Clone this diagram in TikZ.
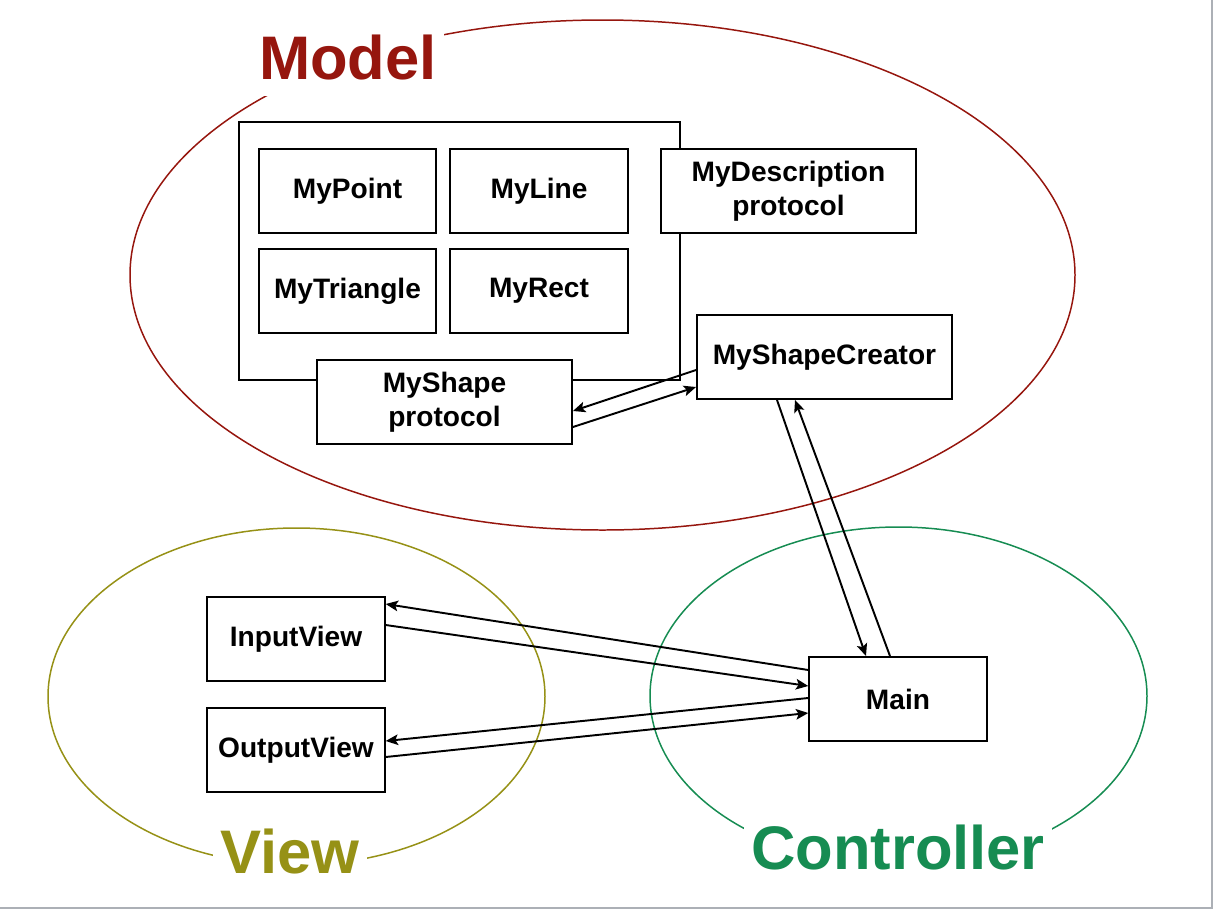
\documentclass[tikz,border=0pt]{standalone}
\usepackage{fontspec}
\setmainfont{Liberation Sans}
\usetikzlibrary{calc, arrows.meta}
\definecolor{modelred}{RGB}{150,22,14}
\definecolor{viewolive}{RGB}{150,145,22}
\definecolor{ctrlgreen}{RGB}{22,140,82}
\definecolor{edgegrey}{RGB}{172,176,182}
\tikzset{
	box/.style={draw, line width=1.1pt, fill=white, align=center, font=\fontsize{16}{19.5}\selectfont\bfseries, inner sep=0pt},
	smallbox/.style={box, minimum width=3.55cm, minimum height=1.68cm},
	widebox/.style={box, minimum width=5.1cm, minimum height=1.68cm},
	group/.style={line width=0.85pt},
	grouplabel/.style={fill=white, inner xsep=0.15cm, inner ysep=0.3cm, font=\fontsize{35}{40}\selectfont\bfseries},
	link/.style={-{Stealth[length=7pt, width=6pt, inset=1.5pt]}, line width=1.1pt}
}
\begin{document}
\begin{tikzpicture}[x=0.02cm, y=-0.02cm]
		\useasboundingbox (0,0) rectangle (1214,910);
		\draw[edgegrey, line width=1.2pt] (1212,0) -- (1212,908) -- (0,908);

		\draw[group, modelred] (602.5,275) ellipse (472.5 and 255);
		\draw[group, viewolive] (296.5,696.5) ellipse (248.5 and 168.5);
		\draw[group, ctrlgreen] (898.5,696) ellipse (248.5 and 169);

		\node[grouplabel, text=modelred] (modeltitle) at (348,58) {Model};
		\node[grouplabel, text=viewolive, inner ysep=0.1cm] (viewtitle) at (290,852) {View};
		\node[grouplabel, text=ctrlgreen, inner ysep=0.1cm] (ctrltitle) at (898,848) {Controller};

		\node[box, minimum width=8.82cm, minimum height=5.16cm] (shapes) at (459.5,251) {};
		\node[smallbox] (point) at (347.5,191) {MyPoint};
		\node[smallbox] (line) at (539,191) {MyLine};
		\node[smallbox] (triangle) at (347.5,291) {MyTriangle};
		\node[smallbox] (rect) at (539,291) {MyRect};
		\node[widebox] (description) at (788.5,191) {MyDescription\\protocol};
		\node[widebox] (creator) at (824.5,357) {MyShapeCreator};
		\node[widebox] (shape) at (444.5,402) {MyShape\\protocol};

		\node[smallbox] (input) at (296,639) {InputView};
		\node[smallbox] (output) at (296,750) {OutputView};
		\node[smallbox] (main) at (898,699) {Main};

		\draw[link] ($(creator.west)+(0,13)$) -- ($(shape.east)+(0,9)$);
		\draw[link] ($(shape.east)+(0,25)$) -- ($(creator.west)+(0,30)$);

		\draw[link] ($(creator.south)+(-47.5,0)$) -- ($(main.north)+(-32,0)$);
		\draw[link] ($(main.north)+(-8,0)$) -- ($(creator.south)+(-29.5,0)$);

		\draw[link] ($(main.west)+(0,-29)$) -- ($(input.east)+(0,-35)$);
		\draw[link] ($(input.east)+(0,-14)$) -- ($(main.west)+(0,-13)$);

		\draw[link] ($(main.west)+(0,-1)$) -- ($(output.east)+(0,-9)$);
		\draw[link] ($(output.east)+(0,7)$) -- ($(main.west)+(0,14)$);
	\end{tikzpicture}
\end{document}
